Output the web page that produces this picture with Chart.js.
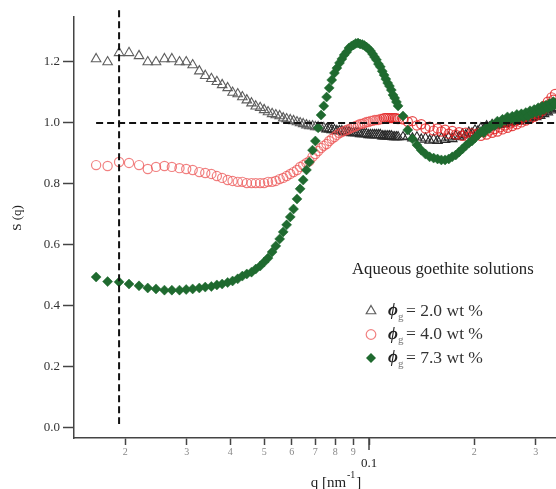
<!DOCTYPE html>
<html><head><meta charset="utf-8">
<script src="https://cdn.jsdelivr.net/npm/chart.js@4.4.0/dist/chart.umd.min.js"></script>
<style>html,body{margin:0;padding:0;background:#fff;}#wrap{width:556px;height:489px;position:relative;}</style>
</head><body><div id="wrap"><canvas id="c" width="556" height="489"></canvas></div>
<script>
// scattering vector q [nm^-1]
const q = [0.0165,0.0178,0.0192,0.0205,0.0219,0.0232,0.0245,0.0259,0.0272,0.0286,
0.0299,0.0312,0.0326,0.0339,0.0353,0.0366,0.0379,0.0393,0.0406,0.0420,
0.0433,0.0446,0.0460,0.0473,0.0487,0.0500,0.0513,0.0527,0.0540,0.0554,
0.0567,0.0580,0.0594,0.0607,0.0621,0.0634,0.0647,0.0661,0.0674,0.0688,
0.0701,0.0714,0.0728,0.0741,0.0755,0.0768,0.0781,0.0795,0.0808,0.0822,
0.0835,0.0848,0.0862,0.0875,0.0889,0.0902,0.0915,0.0929,0.0942,0.0956,
0.0969,0.0982,0.0996,0.1009,0.1023,0.1036,0.1049,0.1063,0.1076,0.1090,
0.1103,0.1116,0.1130,0.1143,0.1157,0.1170,0.1183,0.1197,0.1210,
0.125,0.129,0.133,0.137,0.141,0.145,0.149,0.153,0.157,0.161,
0.165,0.169,0.173,0.177,0.181,0.185,0.189,0.193,0.197,0.201,
0.205,0.209,0.213,0.217,0.221,0.225,0.229,0.233,0.237,0.241,
0.245,0.249,0.253,0.257,0.261,0.265,0.269,0.273,0.277,0.281,
0.285,0.289,0.293,0.297,0.301,0.305,0.309,0.313,0.317,0.321,
0.325,0.329,0.333,0.337,0.341];

// S(q), phi_g = 2.0 wt %
const s20 = [1.21,1.20,1.23,1.23,1.22,1.20,1.20,1.21,1.21,1.20,
1.20,1.19,1.17,1.155,1.145,1.135,1.125,1.115,1.10,1.095,
1.085,1.075,1.065,1.055,1.05,1.043,1.036,1.03,1.026,1.023,
1.016,1.013,1.01,1.007,1.003,1.0,0.997,0.993,0.99,0.99,
0.987,0.987,0.984,0.984,0.98,0.98,0.977,0.977,0.974,0.974,
0.974,0.970,0.970,0.970,0.967,0.967,0.967,0.967,0.964,0.964,
0.964,0.964,0.961,0.961,0.961,0.961,0.961,0.961,0.961,0.957,
0.957,0.957,0.957,0.957,0.957,0.954,0.954,0.954,0.954,
0.954,0.956,0.95,0.953,0.946,0.95,0.943,0.946,0.942,0.95,
0.945,0.953,0.948,0.957,0.954,0.963,0.96,0.969,0.966,0.976,
0.973,0.983,0.98,0.99,0.986,0.994,0.99,0.998,0.994,1.0,
0.997,1.003,1.0,1.006,1.004,1.01,1.006,1.013,1.01,1.016,
1.012,1.02,1.017,1.024,1.02,1.028,1.024,1.032,1.03,1.038,
1.035,1.045,1.042,1.05,1.048];

// S(q), phi_g = 4.0 wt %
const s40 = [0.862,0.859,0.872,0.869,0.862,0.849,0.856,0.859,0.856,0.852,
0.849,0.846,0.839,0.836,0.833,0.826,0.82,0.813,0.81,0.807,
0.807,0.803,0.803,0.803,0.803,0.803,0.807,0.807,0.81,0.816,
0.82,0.826,0.833,0.839,0.846,0.856,0.862,0.869,0.875,0.889,
0.898,0.908,0.918,0.925,0.931,0.941,0.948,0.954,0.961,0.967,
0.970,0.974,0.977,0.980,0.984,0.987,0.99,0.993,0.997,0.997,
1.0,1.003,1.003,1.007,1.007,1.01,1.01,1.01,1.013,1.013,
1.016,1.016,1.016,1.016,1.016,1.016,1.016,1.016,1.013,
1.012,1.004,1.006,0.992,0.996,0.982,0.988,0.975,0.982,0.972,
0.978,0.965,0.974,0.962,0.97,0.958,0.968,0.955,0.966,0.96,
0.966,0.958,0.97,0.962,0.975,0.968,0.98,0.972,0.986,0.979,
0.992,0.984,0.998,0.99,1.005,0.996,1.012,1.002,1.018,1.008,
1.024,1.014,1.03,1.02,1.036,1.028,1.046,1.04,1.056,1.05,
1.07,1.062,1.084,1.076,1.095];

// S(q), phi_g = 7.3 wt %
const s73 = [0.495,0.480,0.479,0.472,0.466,0.459,0.456,0.452,0.452,0.452,
0.454,0.456,0.459,0.462,0.464,0.469,0.472,0.477,0.482,0.489,
0.498,0.505,0.511,0.521,0.531,0.544,0.557,0.577,0.597,0.620,
0.643,0.666,0.692,0.718,0.751,0.784,0.813,0.846,0.872,0.911,
0.941,0.984,1.026,1.056,1.085,1.115,1.141,1.164,1.180,1.197,
1.210,1.223,1.233,1.246,1.252,1.256,1.261,1.262,1.259,1.257,
1.254,1.249,1.243,1.236,1.226,1.216,1.207,1.193,1.184,1.170,
1.157,1.144,1.131,1.121,1.108,1.092,1.082,1.069,1.056,
1.023,0.977,0.948,0.928,0.911,0.898,0.889,0.885,0.882,0.879,
0.879,0.882,0.889,0.895,0.905,0.915,0.925,0.934,0.941,0.951,
0.961,0.972,0.968,0.985,0.982,0.995,0.992,1.006,0.998,1.012,
1.008,1.02,1.012,1.022,1.01,1.028,1.018,1.03,1.02,1.034,
1.022,1.04,1.03,1.044,1.034,1.05,1.038,1.055,1.044,1.058,
1.048,1.064,1.054,1.07,1.06];

const xTicks = [0.02,0.03,0.04,0.05,0.06,0.07,0.08,0.09,0.1,0.2,0.3];
const xTickLabels = ['2','3','4','5','6','7','8','9','0.1','2','3'];
const yTicks = [0,0.2,0.4,0.6,0.8,1.0,1.2];
const yTickLabels = ['0.0','0.2','0.4','0.6','0.8','1.0','1.2'];

// dashed reference lines
const hLineQ = [0.0165, 0.343];
const hLineS = [1.0, 1.0];
const vLineQ = [0.0192, 0.0192];
const vLineS = [1.37, 0.013];

const legendTitle = 'Aqueous goethite solutions';
const legendPhi = 'ϕ';
const legendSub = 'g';
const legendLabels = ['= 2.0 wt %', '= 4.0 wt %', '= 7.3 wt %'];
const xTitle = ['q [nm', '-1', ']'];
const yTitle = 'S (q)';

const SERIF = '"Liberation Serif","DejaVu Serif",serif';
const pts = (xs, ys) => xs.map((x, i) => ({x: x, y: ys[i]}));

const colT = '#5e5e5e', colTdense = '#2a2a2a';
const colC = 'rgba(236,80,80,0.72)', colCdense = 'rgba(225,30,30,0.8)';
const colG = '#1f6a2f';

function drawSym(ctx, style, x, y) {
  ctx.save();
  ctx.lineWidth = 1.2;
  ctx.beginPath();
  if (style === 'triangle') {
    const r = 5.5;
    ctx.moveTo(x, y - r);
    ctx.lineTo(x + r * 0.866, y + r / 2);
    ctx.lineTo(x - r * 0.866, y + r / 2);
    ctx.closePath();
    ctx.strokeStyle = colT; ctx.stroke();
  } else if (style === 'circle') {
    ctx.arc(x, y, 4.8, 0, Math.PI * 2);
    ctx.strokeStyle = colC; ctx.stroke();
  } else {
    const r = 5;
    ctx.moveTo(x, y - r); ctx.lineTo(x + r, y); ctx.lineTo(x, y + r); ctx.lineTo(x - r, y);
    ctx.closePath();
    ctx.fillStyle = colG; ctx.fill();
  }
  ctx.restore();
}

const decor = {
  id: 'decor',
  afterDraw(chart) {
    const ctx = chart.ctx;
    const xs = chart.scales.x, ys = chart.scales.y;
    ctx.save();
    // longer major tick at 0.1
    const px = Math.round(xs.getPixelForValue(0.1));
    ctx.strokeStyle = '#444'; ctx.lineWidth = 1.5;
    ctx.beginPath(); ctx.moveTo(px, ys.bottom); ctx.lineTo(px, ys.bottom + 12); ctx.stroke();

    // axis titles
    ctx.fillStyle = '#222';
    ctx.textBaseline = 'alphabetic';
    ctx.font = '15px ' + SERIF;
    const w0 = ctx.measureText(xTitle[0]).width;
    ctx.font = '10px ' + SERIF;
    const w1 = ctx.measureText(xTitle[1]).width;
    ctx.font = '15px ' + SERIF;
    const w2 = ctx.measureText(xTitle[2]).width;
    let x0 = 336 - (w0 + w1 + w2 + 2) / 2;
    ctx.textAlign = 'left';
    ctx.fillText(xTitle[0], x0, 487);
    ctx.font = '10px ' + SERIF;
    ctx.fillText(xTitle[1], x0 + w0 + 1, 478);
    ctx.font = '15px ' + SERIF;
    ctx.fillText(xTitle[2], x0 + w0 + w1 + 2, 487);

    ctx.save();
    ctx.translate(18, 218);
    ctx.rotate(-Math.PI / 2);
    ctx.font = '13px ' + SERIF;
    ctx.textAlign = 'center';
    ctx.textBaseline = 'middle';
    ctx.fillText(yTitle, 0, 0);
    ctx.restore();

    // legend
    ctx.textAlign = 'left';
    ctx.textBaseline = 'middle';
    ctx.fillStyle = '#222';
    ctx.font = '16.7px ' + SERIF;
    ctx.fillText(legendTitle, 352, 270);
    const styles = ['triangle', 'circle', 'rectRot'];
    for (let i = 0; i < 3; i++) {
      const y = 311 + i * 23.5;
      drawSym(ctx, styles[i], 371, y);
      ctx.fillStyle = '#222';
      ctx.font = 'bold italic 17px ' + SERIF;
      ctx.fillText(legendPhi, 388, y);
      ctx.fillStyle = '#777';
      ctx.font = '11px ' + SERIF;
      ctx.fillText(legendSub, 398, y + 6);
      ctx.fillStyle = '#333';
      ctx.font = '17.5px ' + SERIF;
      ctx.fillText(legendLabels[i], 406, y);
    }
    ctx.restore();
  }
};

new Chart(document.getElementById('c'), {
  type: 'scatter',
  data: {
    datasets: [
      {data: pts(hLineQ, hLineS), showLine: true, borderColor: '#111', borderWidth: 2, borderDash: [7, 4], pointRadius: 0, clip: false},
      {data: pts(vLineQ, vLineS), showLine: true, borderColor: '#111', borderWidth: 2, borderDash: [7, 4], pointRadius: 0, clip: false},
      {label: 'ϕg = 7.3 wt %', data: pts(q, s73), pointStyle: 'rectRot', pointRadius: 5, backgroundColor: colG, borderColor: colG, borderWidth: 0.5, clip: false},
      {label: 'ϕg = 4.0 wt %', data: pts(q, s40), pointStyle: 'circle', pointRadius: 4.6, backgroundColor: 'rgba(0,0,0,0)',
        borderColor: c => (c.raw && c.raw.x > 0.11 ? colCdense : colC), borderWidth: 1.2, clip: false},
      {label: 'ϕg = 2.0 wt %', data: pts(q, s20), pointStyle: 'triangle', pointRadius: 5.5, backgroundColor: 'rgba(0,0,0,0)',
        borderColor: c => (c.raw && c.raw.x > 0.075 ? colTdense : colT), borderWidth: 1.1, clip: false}
    ]
  },
  options: {
    responsive: false,
    devicePixelRatio: 1,
    animation: false,
    events: [],
    layout: {autoPadding: false, padding: {top: 17, right: 0, left: 0, bottom: 0}},
    plugins: {legend: {display: false}, tooltip: {enabled: false}, title: {display: false}},
    scales: {
      x: {
        type: 'logarithmic',
        position: 'bottom',
        min: 0.01426,
        max: 0.343,
        afterFit: s => { s.height = 51; },
        afterBuildTicks: s => { s.ticks = xTicks.map(v => ({value: v})); },
        ticks: {
          autoSkip: false, maxRotation: 0, minRotation: 0, padding: 2,
          callback: (v, i) => (xTickLabels[i] === '0.1' ? ['', xTickLabels[i]] : xTickLabels[i]),
          font: ctx => (xTickLabels[ctx.index] === '0.1' ? {family: SERIF, size: 13, lineHeight: 0.85} : {family: SERIF, size: 10, lineHeight: 1}),
          color: ctx => (xTickLabels[ctx.index] === '0.1' ? '#222' : '#888')
        },
        grid: {display: true, drawOnChartArea: false, drawTicks: true, tickLength: 7, color: '#444', tickColor: '#444', tickWidth: 1.5},
        border: {display: true, color: '#444', width: 1.5}
      },
      y: {
        type: 'linear',
        min: -0.0328,
        max: 1.3475,
        afterFit: s => { s.width = 74; },
        afterBuildTicks: s => { s.ticks = yTicks.map(v => ({value: v})); },
        ticks: {
          padding: 3,
          callback: (v, i) => yTickLabels[i],
          font: {family: SERIF, size: 13},
          color: '#333'
        },
        grid: {display: true, drawOnChartArea: false, drawTicks: true, tickLength: 11, color: '#444', tickColor: '#444', tickWidth: 1.5},
        border: {display: true, color: '#444', width: 1.5}
      }
    }
  },
  plugins: [decor]
});
</script>
</body></html>
